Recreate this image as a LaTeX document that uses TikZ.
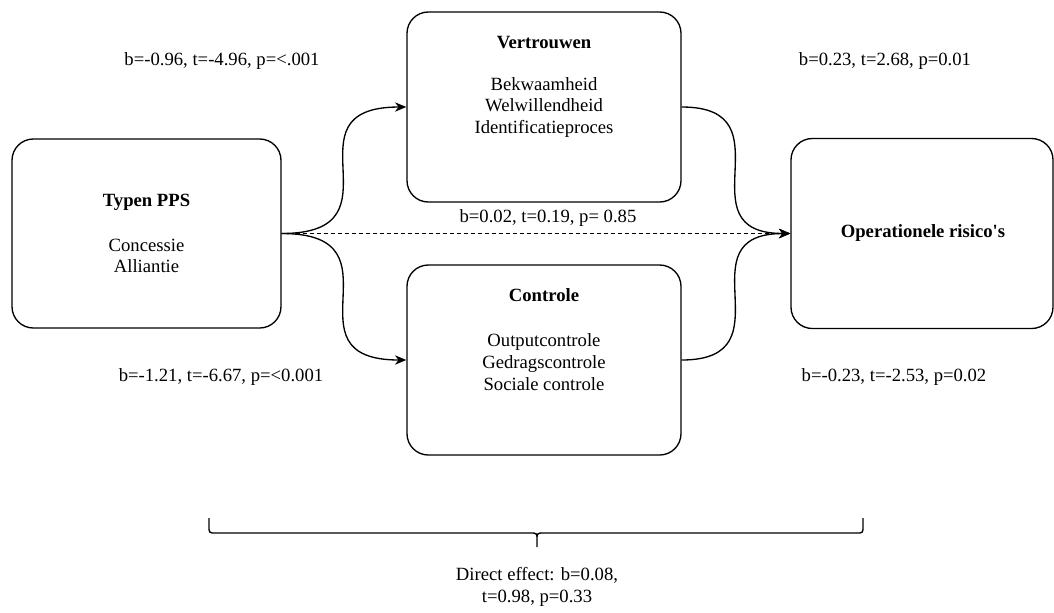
\documentclass[tikz,border=0pt]{standalone}
\usepackage{fontspec}
\setmainfont{Liberation Serif}
\usetikzlibrary{arrows.meta}

\begin{document}
\begin{tikzpicture}[
  x=0.75pt, y=-0.75pt,
  line width=1pt,
  every node/.style={font=\fontsize{14pt}{16.3pt}\selectfont, inner sep=0pt, align=center},
  box/.style={draw, rounded corners=16pt, line width=1pt},
  link/.style={-{Stealth[length=8.5pt,width=7pt,inset=2.6pt]}},
  title/.style={font=\fontsize{14pt}{16.3pt}\selectfont\bfseries}
]
\useasboundingbox (0,0) rectangle (1054,612);

% boxes
\node[box, minimum width=201.75pt, minimum height=141.75pt] (typen) at (146.5,233.5) {};
\node[box, minimum width=205.5pt, minimum height=142.5pt] (vt) at (544,107) {};
\node[box, minimum width=205.5pt, minimum height=142.5pt] (ct) at (544,360) {};
\node[box, minimum width=196.5pt, minimum height=142.5pt] (op) at (922,233.5) {};

% box contents
\node[title] (typenT) at (146.5,202) {Typen PPS};
\node (typenL) at (146.5,256) {Concessie\\Alliantie};
\node[title] (vtT) at (544,43) {Vertrouwen};
\node (vtL) at (544,107.5) {Bekwaamheid\\Welwillendheid\\Identificatieproces};
\node[title] (ctT) at (544,295) {Controle};
\node (ctL) at (544,362) {Outputcontrole\\Gedragscontrole\\Sociale controle};
\node[title] (opT) at (923,233) {Operationele risico\textquotesingle s};

% connectors
\draw[link] (typen.east) .. controls +(126,0) and +(-126,0) .. (vt.west);
\draw[link] (typen.east) .. controls +(126,0) and +(-126,0) .. (ct.west);
\draw[link] (vt.east) .. controls +(110,0) and +(-110,0) .. (op.west);
\draw[link] (ct.east) .. controls +(110,0) and +(-110,0) .. (op.west);
\draw[link, dash pattern=on 3pt off 2.25pt] (typen.east) -- (op.west);

% coefficients
\node (l1) at (222,61) {b=-0.96, t=-4.96, p=<.001};
\node (l2) at (885,61) {b=0.23, t=2.68, p=0.01};
\node (l3) at (548,218) {b=0.02, t=0.19, p= 0.85};
\node (l4) at (221,377) {b=-1.21, t=-6.67, p=<0.001};
\node (l5) at (894,377) {b=-0.23, t=-2.53, p=0.02};

% brace for the direct effect
\draw (209,518) -- (209,526) .. controls (209,533) .. (216,533) -- (530,533)
      .. controls (537,533) .. (537,540) -- (537,547)
      (537,540) .. controls (537,533) .. (544,533) -- (856,533)
      .. controls (863,533) .. (863,526) -- (863,518);
\node (direct) at (537,587) {Direct effect: b=0.08,\\t=0.98, p=0.33};
\end{tikzpicture}
\end{document}
